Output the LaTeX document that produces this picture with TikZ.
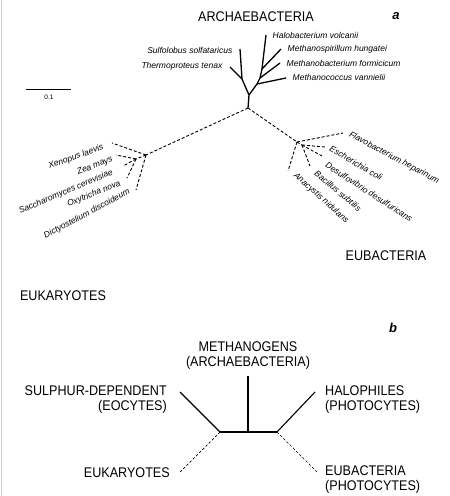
\documentclass[tikz,border=0pt]{standalone}
\usepackage{fontspec}
\setmainfont{Liberation Sans}
\newfontfamily\capsf[FakeStretch=0.9]{Liberation Sans}
\begin{document}
\begin{tikzpicture}[x=1pt,y=-1pt,
  br/.style={line width=1.3pt},
  db/.style={line width=0.9pt, dash pattern=on 3pt off 2pt},
  sp/.style={font=\fontsize{8.5}{9}\selectfont\itshape, inner sep=0.5pt},
  grp/.style={font=\capsf\fontsize{14}{15}\selectfont, inner sep=0pt, align=center},
  panel/.style={font=\fontsize{13}{13}\selectfont\bfseries\itshape, inner sep=0pt}]
\fill[white] (0,0) rectangle (450,496);
\useasboundingbox (0,0) rectangle (450,496);
\draw[gray!35, line width=0.8pt] (1.5,0) -- (1.5,496);

% ---------- panel a ----------
\node[panel] (pa) at (396,16) {a};
\node[grp] (arch) at (256,17) {ARCHAEBACTERIA};
\node[grp] (euk) at (63,296) {EUKARYOTES};
\node[grp] (eub) at (386,256) {EUBACTERIA};

% scale bar
\coordinate (s1) at (26,89);
\coordinate (s2) at (71,89);
\draw[line width=1pt] (s1) -- (s2);
\node[font=\fontsize{6.5}{7}\selectfont, inner sep=0pt] (sl) at (49,97) {0.1};

% junctions
\coordinate (C) at (248,108);
\coordinate (F) at (249,95);
\coordinate (L) at (242,79);
\coordinate (R1) at (257,84);
\coordinate (R2) at (260,78);
\coordinate (R3) at (262,69);
\coordinate (E) at (146,155);
\coordinate (E2) at (136,159);
\coordinate (B) at (297,142);
\coordinate (B2) at (302,145);

% archaebacterial tips
\coordinate (tHalo) at (266,35);
\coordinate (tMsp) at (281,49);
\coordinate (tMba) at (280,63);
\coordinate (tMco) at (286,78);
\coordinate (tSul) at (240,49);
\coordinate (tThe) at (230,67);

\draw[br] (C) -- (F) -- (L) -- (tSul);
\draw[br] (L) -- (tThe);
\draw[br] (F) -- (R1) -- (R2) -- (R3) -- (tHalo);
\draw[br] (R3) -- (tMsp);
\draw[br] (R2) -- (tMba);
\draw[br] (R1) -- (tMco);

\node[sp, anchor=west] (nHalo) at (272,35) {Halobacterium volcanii};
\node[sp, anchor=west] (nMsp) at (287,49) {Methanospirillum hungatei};
\node[sp, anchor=west] (nMba) at (286,63) {Methanobacterium formicicum};
\node[sp, anchor=west] (nMco) at (292,77) {Methanococcus vannielii};
\node[sp, anchor=east] (nSul) at (233,50) {Sulfolobus solfataricus};
\node[sp, anchor=east] (nThe) at (223,66) {Thermoproteus tenax};

% eukaryotes
\coordinate (tXen) at (112,143);
\coordinate (tZea) at (116,155);
\coordinate (tSac) at (123,166);
\coordinate (tOxy) at (127,178);
\coordinate (tDic) at (136,190);
\draw[db] (C) -- (E);
\draw[db] (E) -- (E2);
\draw[db] (E) -- (tXen);
\draw[db] (E2) -- (tZea);
\draw[db] (E2) -- (tSac);
\draw[db] (E2) -- (tOxy);
\draw[db] (E) -- (tDic);

\node[sp, rotate=20] (nXen) at (76,157) {Xenopus laevis};
\node[sp, rotate=22] (nZea) at (95,166) {Zea mays};
\node[sp, rotate=23] (nSac) at (66,192) {Saccharomyces cerevisiae};
\node[sp, rotate=22] (nOxy) at (94,194) {Oxytricha nova};
\node[sp, rotate=28] (nDic) at (87,214) {Dictyostelium discoideum};

% eubacteria
\coordinate (tFla) at (343,133);
\coordinate (tEco) at (325,147);
\coordinate (tDes) at (322,156);
\coordinate (tBac) at (310,166);
\coordinate (tAna) at (288,171);
\draw[db] (C) -- (B);
\draw[db] (B) -- (B2);
\draw[db] (B) -- (tFla);
\draw[db] (B2) -- (tEco);
\draw[db] (B2) -- (tDes);
\draw[db] (B2) -- (tBac);
\draw[db] (B) -- (tAna);

\node[sp, rotate=-28] (nFla) at (394,158) {Flavobacterium heparinum};
\node[sp, rotate=-30] (nEco) at (356,163) {Escherichia coli};
\node[sp, rotate=-33] (nDes) at (369,192) {Desulfovibrio desulfuricans};
\node[sp, rotate=-40] (nBac) at (338,191) {Bacillus subtilis};
\node[sp, rotate=-42] (nAna) at (321,198) {Anacystis nidulans};

% ---------- panel b ----------
\node[panel] (pb) at (393,328) {b};
\node[grp] (meth) at (248,356) {METHANOGENS\\(ARCHAEBACTERIA)};
\node[grp, anchor=east, align=right] (sulph) at (167,400) {SULPHUR-DEPENDENT\\(EOCYTES)};
\node[grp, anchor=west, align=left] (halo) at (325,400) {HALOPHILES\\(PHOTOCYTES)};
\node[grp, anchor=east] (eukb) at (170,473) {EUKARYOTES};
\node[grp, anchor=west, align=left] (eubb) at (325,480) {EUBACTERIA\\(PHOTOCYTES)};

\coordinate (bL) at (220,432);
\coordinate (bM) at (248,432);
\coordinate (bR) at (277,432);
\coordinate (bT) at (248,376);
\coordinate (bSL) at (180,392);
\coordinate (bSR) at (315,392);
\coordinate (bDL) at (180,472);
\coordinate (bDR) at (317,472);
\draw[br, line width=1.1pt] (bL) -- (bR);
\draw[br, line width=1.1pt] (bM) -- (bT);
\draw[br, line width=1.1pt] (bL) -- (bSL);
\draw[br, line width=1.1pt] (bR) -- (bSR);
\draw[db, line width=0.7pt, dash pattern=on 2.5pt off 2pt] (bL) -- (bDL);
\draw[db, line width=0.7pt, dash pattern=on 2.5pt off 2pt] (bR) -- (bDR);
\end{tikzpicture}
\end{document}
